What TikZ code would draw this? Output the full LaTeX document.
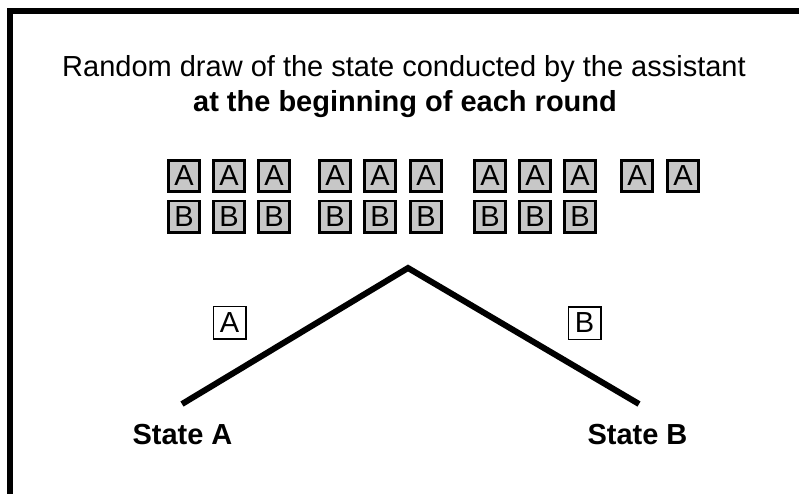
\documentclass[tikz,border=0pt]{standalone}
\usepackage{fontspec}
\setmainfont{Liberation Sans}
\begin{document}
\begin{tikzpicture}[x=1pt,y=-1pt,
  chip/.style={draw=black, line width=2.7pt, fill=black!22, minimum size=31.3pt, inner sep=0pt, font=\fontsize{29}{29}\selectfont},
  tag/.style={draw=black, line width=1.5pt, fill=white, minimum size=32.5pt, inner sep=0pt, font=\fontsize{29}{29}\selectfont},
  txt/.style={inner sep=0pt, anchor=base, font=\fontsize{29}{35}\selectfont},
  branch/.style={line width=6pt}]
\useasboundingbox (0,0) rectangle (799,493);
\clip (0,0) rectangle (799,493);
% frame
\draw[line width=6pt] (10,520) -- (10,11) -- (830,11);
% title
\node[txt] (t1) at (404,76) {Random draw of the state conducted by the assistant};
\node[txt, font=\fontsize{29}{35}\selectfont\bfseries] (t2) at (405,111) {at the beginning of each round};
% A row
\foreach \x [count=\i] in {184,229,274,335,380,426,490,535,580,637,683}
  \node[chip] (a\i) at (\x,176) {A};
% B row
\foreach \x [count=\i] in {184,229,274,335,380,426,490,535,580}
  \node[chip] (b\i) at (\x,216.5) {B};
% tree
\coordinate (peak) at (408,268);
\coordinate (endA) at (182,404);
\coordinate (endB) at (639,404);
\draw[branch] (endA) -- (peak) -- (endB);
\node[tag] (la) at (229.5,322.5) {A};
\node[tag] (lb) at (584.5,323) {B};
\node[txt, font=\fontsize{29}{35}\selectfont\bfseries] (sa) at (182.5,444) {State A};
\node[txt, font=\fontsize{29}{35}\selectfont\bfseries] (sb) at (637.5,444) {State B};
\end{tikzpicture}
\end{document}
